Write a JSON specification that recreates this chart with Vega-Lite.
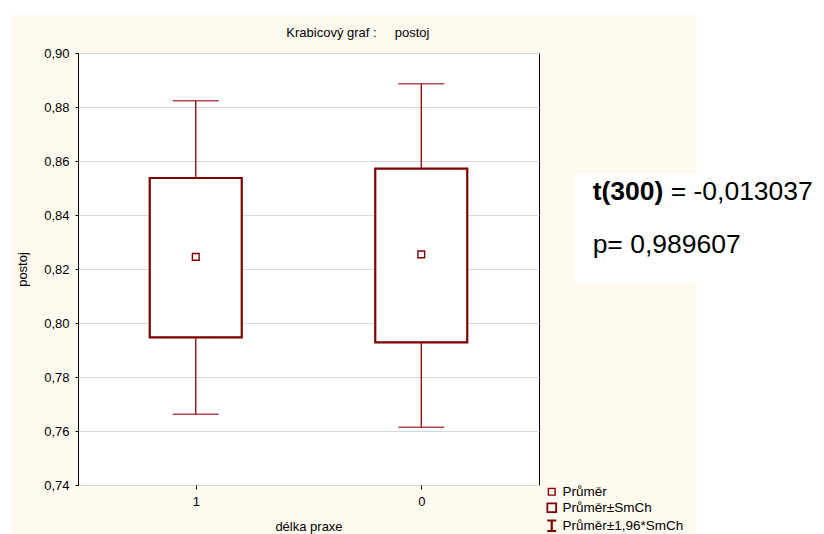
{
  "$schema": "https://vega.github.io/schema/vega-lite/v6.json",
  "width": 461,
  "height": 432,
  "autosize": {"type": "none"},
  "padding": {"left": 78, "top": 53, "right": 285, "bottom": 49},
  "background": "#fffaf0",
  "data": {
    "values": [
      {"praxe": 1, "stat": "Průměr", "mean": 0.8245, "se_lo": 0.7947, "se_hi": 0.8537, "ci_lo": 0.7662, "ci_hi": 0.8823},
      {"praxe": 0, "stat": "Průměr", "mean": 0.8254, "se_lo": 0.7928, "se_hi": 0.8572, "ci_lo": 0.7614, "ci_hi": 0.8886}
    ]
  },
  "config": {
    "view": {"stroke": "black", "strokeWidth": 1, "fill": "white"},
    "font": "Liberation Sans",
    "axis": {
      "labelColor": "black", "titleColor": "black", "labelFont": "Liberation Sans", "titleFont": "Liberation Sans",
      "labelFontSize": 13, "titleFontSize": 13, "titleFontWeight": "normal", "tickColor": "black", "domain": false
    },
    "legend": {
      "orient": "none", "legendX": 467, "legendY": 432, "title": null,
      "labelFontSize": 13.5, "labelFont": "Liberation Sans", "labelColor": "black",
      "symbolStrokeColor": "#800000", "symbolFillColor": "transparent", "rowPadding": 0, "labelOffset": 4, "padding": 0
    }
  },
  "layer": [
    {
      "data": {"values": [{}]},
      "mark": {"type": "rect", "color": "white"},
      "encoding": {"x": {"datum": 1.9}, "x2": {"datum": -1.8}, "y": {"datum": 0.9196}, "y2": {"datum": 0.9141}}
    },
    {
      "data": {"values": [{}]},
      "mark": {"type": "rect", "color": "white"},
      "encoding": {"x": {"datum": -1.22}, "x2": {"datum": -1.8}, "y": {"datum": 0.9196}, "y2": {"datum": 0.70}}
    },
    {
      "data": {"values": [{}]},
      "mark": {"type": "rect", "color": "white"},
      "encoding": {"x": {"datum": 1.9}, "x2": {"datum": 1.8167}, "y": {"datum": 0.9196}, "y2": {"datum": 0.70}}
    },
    {
      "data": {"values": [{}]},
      "mark": {"type": "rect", "color": "white"},
      "encoding": {"x": {"datum": -0.682}, "x2": {"datum": -1.8}, "y": {"datum": 0.8552}, "y2": {"datum": 0.8148}}
    },
    {
      "data": {"values": [{}]},
      "mark": {"type": "text", "text": "Krabicový graf :\u00a0\u00a0\u00a0\u00a0\u00a0postoj", "align": "center", "baseline": "middle", "fontSize": 13, "font": "Liberation Sans", "color": "black"},
      "encoding": {"x": {"datum": 0.281}, "y": {"datum": 0.9074}}
    },
    {
      "mark": {"type": "rule", "color": "#8b0000", "strokeWidth": 1.3},
      "encoding": {
        "x": {
          "field": "praxe", "type": "quantitative",
          "scale": {"domain": [-0.5, 1.5], "reverse": true, "nice": false, "zero": false},
          "axis": {"values": [1, 0], "format": "d", "grid": false, "title": "délka praxe", "tickSize": 4, "labelPadding": 6, "titlePadding": 12}
        },
        "y": {
          "field": "ci_lo", "type": "quantitative",
          "scale": {"domain": [0.74, 0.90], "nice": false, "zero": false},
          "axis": {
            "values": [0.74, 0.76, 0.78, 0.80, 0.82, 0.84, 0.86, 0.88, 0.90],
            "labelExpr": "replace(format(datum.value, '.2f'), '.', ',')",
            "grid": true, "gridColor": "#d9d9d9", "tickSize": 3, "labelPadding": 6, "title": "postoj", "titlePadding": 14
          }
        },
        "y2": {"field": "ci_hi"}
      }
    },
    {
      "mark": {"type": "tick", "orient": "horizontal", "color": "#8b0000", "size": 46, "thickness": 1.5},
      "encoding": {"x": {"field": "praxe", "type": "quantitative"}, "y": {"field": "ci_hi", "type": "quantitative"}}
    },
    {
      "mark": {"type": "tick", "orient": "horizontal", "color": "#8b0000", "size": 46, "thickness": 1.5},
      "encoding": {"x": {"field": "praxe", "type": "quantitative"}, "y": {"field": "ci_lo", "type": "quantitative"}}
    },
    {
      "mark": {"type": "bar", "width": 92, "fill": "white", "stroke": "#800000", "strokeWidth": 2.2},
      "encoding": {"x": {"field": "praxe", "type": "quantitative"}, "y": {"field": "se_lo", "type": "quantitative"}, "y2": {"field": "se_hi"}}
    },
    {
      "mark": {"type": "point", "filled": false, "color": "#800000", "opacity": 1},
      "encoding": {
        "x": {"field": "praxe", "type": "quantitative"},
        "y": {"field": "mean", "type": "quantitative"},
        "shape": {"field": "stat", "type": "nominal", "scale": {"domain": ["Průměr", "Průměr±SmCh", "Průměr±1,96*SmCh"], "range": ["square", "square", "M-0.85,-1H0.85M0,-1V1M-0.85,1H0.85"]}},
        "size": {"field": "stat", "type": "nominal", "scale": {"domain": ["Průměr", "Průměr±SmCh", "Průměr±1,96*SmCh"], "range": [45, 110, 110]}},
        "strokeWidth": {"field": "stat", "type": "nominal", "scale": {"domain": ["Průměr", "Průměr±SmCh", "Průměr±1,96*SmCh"], "range": [1.4, 2.2, 1.1]}}
      }
    },
    {
      "data": {"values": [{}]},
      "mark": {"type": "text", "text": "t(300)", "align": "left", "baseline": "alphabetic", "fontSize": 26.5, "fontWeight": "bold", "font": "Liberation Sans", "color": "black"},
      "encoding": {"x": {"datum": -0.76}, "y": {"datum": 0.8456}}
    },
    {
      "data": {"values": [{}]},
      "mark": {"type": "text", "text": "= -0,013037", "align": "left", "baseline": "alphabetic", "fontSize": 26.5, "dx": 78, "font": "Liberation Sans", "color": "black"},
      "encoding": {"x": {"datum": -0.76}, "y": {"datum": 0.8456}}
    },
    {
      "data": {"values": [{}]},
      "mark": {"type": "text", "text": "p= 0,989607", "align": "left", "baseline": "alphabetic", "fontSize": 26.5, "font": "Liberation Sans", "color": "black"},
      "encoding": {"x": {"datum": -0.76}, "y": {"datum": 0.8259}}
    }
  ]
}
